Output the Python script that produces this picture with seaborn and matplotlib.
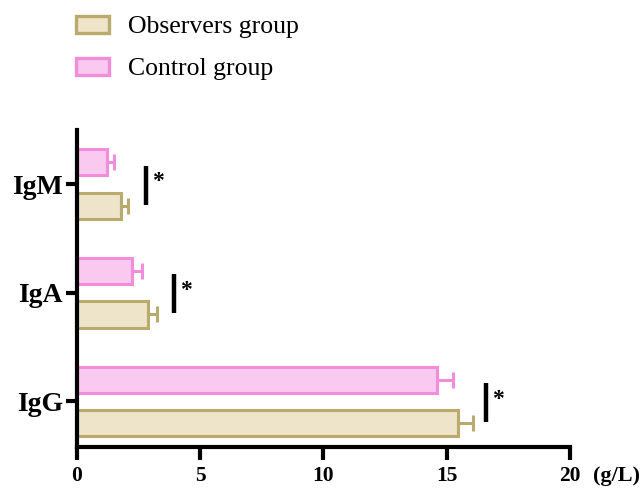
import pandas as pd
import numpy as np
import matplotlib.pyplot as plt
import matplotlib.patches as mpatches
import seaborn as sns

# immunoglobulin levels (g/L)
categories = ["IgM", "IgA", "IgG"]
observers_mean = [1.78, 2.90, 15.45]
observers_err = [0.28, 0.36, 0.62]
control_mean = [1.22, 2.22, 14.60]
control_err = [0.28, 0.42, 0.65]
sig_x = [2.8, 3.93, 16.6]
x_ticks = [0, 5, 10, 15, 20]

obs_fill, obs_edge = "#ede4c9", "#b9ab6e"
ctl_fill, ctl_edge = "#f9c9ef", "#f28ddc"

sns.set_theme(style="ticks")
plt.rcParams['font.family'] = ['Liberation Serif', 'DejaVu Serif']

df = pd.DataFrame({
    "cat": categories * 2,
    "value": control_mean + observers_mean,
    "group": ["Control group"] * 3 + ["Observers group"] * 3,
})
errs = {"Control group": control_err, "Observers group": observers_err}
edges = {"Control group": ctl_edge, "Observers group": obs_edge}

fig = plt.figure(figsize=(6.41, 4.88), dpi=100)
ax = fig.add_axes([0.12, 0.084, 0.769, 0.65])

sns.barplot(data=df, y="cat", x="value", hue="group", orient="h",
            order=categories, hue_order=["Control group", "Observers group"],
            palette={"Control group": ctl_fill, "Observers group": obs_fill},
            saturation=1, width=0.8, gap=0.4, errorbar=None, legend=False, ax=ax)

# style bars per hue and add one-sided error bars
for container, grp in zip(ax.containers, ["Control group", "Observers group"]):
    for patch, e in zip(container.patches, errs[grp]):
        patch.set_edgecolor(edges[grp])
        patch.set_linewidth(2.2)
        yc = patch.get_y() + patch.get_height() / 2
        w = patch.get_width()
        ax.errorbar(w, yc, xerr=[[0], [e]], fmt="none", ecolor=edges[grp],
                    elinewidth=2.2, capsize=5.5, capthick=2.2, zorder=1)

# significance markers
for i, sx in enumerate(sig_x):
    ax.plot([sx, sx], [i - 0.17, i + 0.19], color="black", lw=3.2,
            solid_capstyle="butt")
    ax.text(sx + 0.25, i - 0.02, "*", fontsize=17, fontweight="bold",
            va="center", ha="left", color="black")

ax.set_xlim(0, 20)
ax.set_ylim(2.42, -0.5)
ax.set_xticks(x_ticks)
ax.set_xticklabels([str(t) for t in x_ticks], fontsize=15.5, fontweight="bold")
ax.set_yticks(range(len(categories)))
ax.set_yticklabels(categories, fontsize=20, fontweight="bold")
ax.set_xlabel("")
ax.set_ylabel("")
sns.despine(ax=ax)
for sp in ["left", "bottom"]:
    ax.spines[sp].set_linewidth(3)
    ax.spines[sp].set_color("black")
ax.tick_params(axis="both", width=3, length=8, colors="black")
ax.tick_params(axis="x", length=9, pad=5)
ax.tick_params(axis="y", pad=2)
ax.text(1.047, -0.092, "(g/L)", transform=ax.transAxes, fontsize=16,
        fontweight="bold", ha="left", va="center", color="black")

handles = [
    mpatches.Patch(facecolor=obs_fill, edgecolor=obs_edge, lw=2.4, label="Observers group"),
    mpatches.Patch(facecolor=ctl_fill, edgecolor=ctl_edge, lw=2.4, label="Control group"),
]
fig.legend(handles=handles, loc="upper left", bbox_to_anchor=(0.082, 1.015),
           frameon=False, fontsize=18.5, handlelength=1.3, handleheight=0.65,
           labelspacing=0.75, handletextpad=0.75, labelcolor="black")

fig.savefig("out.png", dpi=100)
